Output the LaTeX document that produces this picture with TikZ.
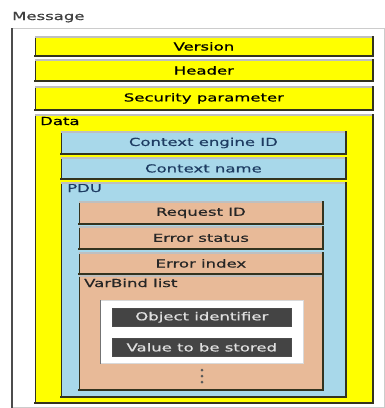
\documentclass[tikz,border=0pt]{standalone}
\usepackage{fontspec}
\newfontfamily\lblfont[FakeStretch=1.5,FakeBold=0.6]{DejaVu Sans}
\definecolor{fieldyellow}{HTML}{FFFF00}
\definecolor{fieldblue}{HTML}{A8D8EA}
\definecolor{fieldtan}{HTML}{E8BA98}
\definecolor{fielddark}{HTML}{444444}
\definecolor{edgedark}{HTML}{33331F}
\definecolor{textblue}{HTML}{1E3C62}
\begin{document}
\begin{tikzpicture}[x=1pt,y=-1pt,
  lbl/.style={font=\lblfont\fontsize{11}{12}\selectfont, inner sep=0pt},
  field/.style={rectangle, anchor=north west, inner sep=0pt, draw=edgedark, line width=0.8pt,
    font=\lblfont\fontsize{11}{12}\selectfont},
  yfield/.style={field, fill=fieldyellow, text=black},
  bfield/.style={field, fill=fieldblue, text=textblue},
  tfield/.style={field, fill=fieldtan, text=black!85},
  dfield/.style={rectangle, anchor=north west, inner sep=0pt, fill=fielddark, draw=black!70,
    line width=0.6pt, text=white!88!black, font=\lblfont\fontsize{11}{12}\selectfont},
  raised/.style={draw=edgedark, line width=2pt, line cap=rect},
  lit/.style={draw=black!25, line width=1.2pt}
]
% canvas
\useasboundingbox[fill=white] (0,0) rectangle (385,408);

% outer message frame
\node[lbl, text=black!75, anchor=base west] (msglbl) at (12,20) {Message};
\draw[black!20, line width=1pt] (12,28) rectangle (384,407);
\draw[black!70, line width=1.4pt] (12,28) -- (12,408);

% top level fields
\node[yfield, minimum width=337pt, minimum height=18pt] (version) at (35,37) {Version};
\node[yfield, minimum width=337pt, minimum height=20pt] (header) at (35,60) {Header};
\node[yfield, minimum width=337pt, minimum height=22pt] (secparam) at (35,87) {Security parameter};
\node[yfield, minimum width=337pt, minimum height=287pt] (data) at (35,115) {};
\node[lbl, anchor=base west, text=black] (datalbl) at (40,125) {Data};

% scoped data
\node[bfield, minimum width=284pt, minimum height=21pt] (ctxengine) at (61,132) {Context engine ID};
\node[bfield, minimum width=284pt, minimum height=20pt] (ctxname) at (61,158) {Context name};
\node[bfield, minimum width=284pt, minimum height=213pt] (pdu) at (61,183) {};
\node[lbl, anchor=base west, text=textblue] (pdulbl) at (67,192) {PDU};

% PDU fields
\node[tfield, minimum width=243pt, minimum height=21pt] (reqid) at (79,202) {Request ID};
\node[tfield, minimum width=243pt, minimum height=21pt] (errstatus) at (79,227) {Error status};
\node[tfield, minimum width=243pt, minimum height=20pt] (errindex) at (79,253) {Error index};
\node[tfield, minimum width=243pt, minimum height=113pt] (varbindlist) at (79,276) {};
\node[lbl, anchor=base west, text=black!85] (vblbl) at (84,287) {VarBind list};

% one variable binding
\node[rectangle, anchor=north west, fill=white, draw=black!15, line width=0.8pt,
      minimum width=203pt, minimum height=63pt] (varbind) at (100,300) {};
\draw[black!55, line width=1pt] (varbind.north west) -- (varbind.south west);
\node[dfield, minimum width=179pt, minimum height=18pt] (oid) at (112,308) {Object identifier};
\node[dfield, minimum width=179pt, minimum height=18pt] (value) at (112,338) {Value to be stored};

% further bindings
\foreach \yy in {370,376,382}
  \fill[black!65] (202,\yy) circle (1.5pt);

% raised edges on the coloured fields
\foreach \n in {version,header,secparam,data,ctxengine,ctxname,pdu,reqid,errstatus,errindex,varbindlist} {
  \draw[lit] (\n.north west) -- (\n.north east);
  \draw[raised] (\n.south west) -- (\n.south east) -- (\n.north east);
}
\end{tikzpicture}
\end{document}
